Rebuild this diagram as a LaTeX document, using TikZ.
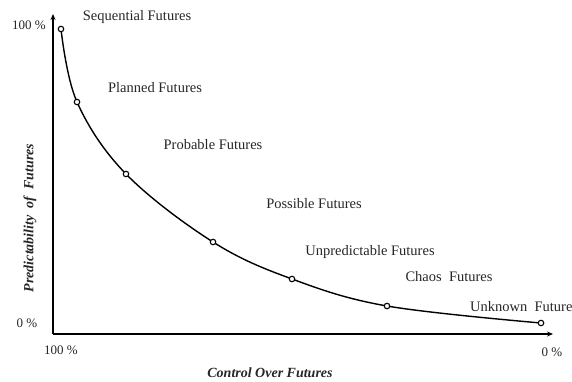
\documentclass[tikz,border=0pt]{standalone}
\usepackage{fontspec}
\setmainfont{Liberation Serif}
\usetikzlibrary{arrows.meta}
\begin{document}
\begin{tikzpicture}[x=1pt,y=-1pt,
  axis/.style={line width=1.7pt,-{Stealth[length=6pt,width=5pt]}},
  curve/.style={line width=1.4pt},
  dot/.style={circle,draw=black,fill=white,line width=1.1pt,inner sep=0pt,minimum size=5.5pt},
  lab/.style={font=\fontsize{14.5}{16}\selectfont,text=black!85,inner sep=0pt},
  num/.style={font=\fontsize{13}{15}\selectfont,text=black!85,inner sep=0pt},
  ttl/.style={font=\fontsize{14}{16}\selectfont\bfseries\itshape,text=black!85,inner sep=0pt}]
\useasboundingbox (0,0) rectangle (572,382);
\clip (0,0) rectangle (572,382);
\coordinate (o) at (53,334);
\coordinate (ytip) at (53,14);
\coordinate (xtip) at (553,334);
\draw[axis] (o) -- (ytip);
\draw[axis] (o) -- (xtip);
\coordinate (p1) at (61,29);
\coordinate (p2) at (77,102);
\coordinate (p3) at (126,174);
\coordinate (p4) at (213,242);
\coordinate (p5) at (292,279);
\coordinate (p6) at (387,306);
\coordinate (p7) at (541,323);
\draw[curve] plot[smooth,tension=0.6] coordinates {(p1) (p2) (p3) (p4) (p5) (p6) (p7)};
\foreach \i in {1,...,7} \node[dot] (d\i) at (p\i) {};
\node[num] (y100) at (29,25) {100 \%};
\node[num] (y0) at (27,323) {0 \%};
\node[num] (x100) at (61,350) {100 \%};
\node[num] (x0) at (552,352) {0 \%};
\node[lab] (seq) at (137,17) {Sequential Futures};
\node[lab] (pla) at (155,88) {Planned Futures};
\node[lab] (pro) at (213,145) {Probable Futures};
\node[lab] (pos) at (314,204) {Possible Futures};
\node[lab] (unp) at (370,252) {Unpredictable Futures};
\node[lab] (cha) at (449,277) {Chaos\ \ Futures};
\node[lab,anchor=west] (unk) at (470,307) {Unknown\ \ Futures};
\node[ttl] (xt) at (270,373) {Control Over Futures};
\node[ttl,rotate=90] (yt) at (30,218) {Predictability\ \ of\ \ Futures};
\end{tikzpicture}
\end{document}
